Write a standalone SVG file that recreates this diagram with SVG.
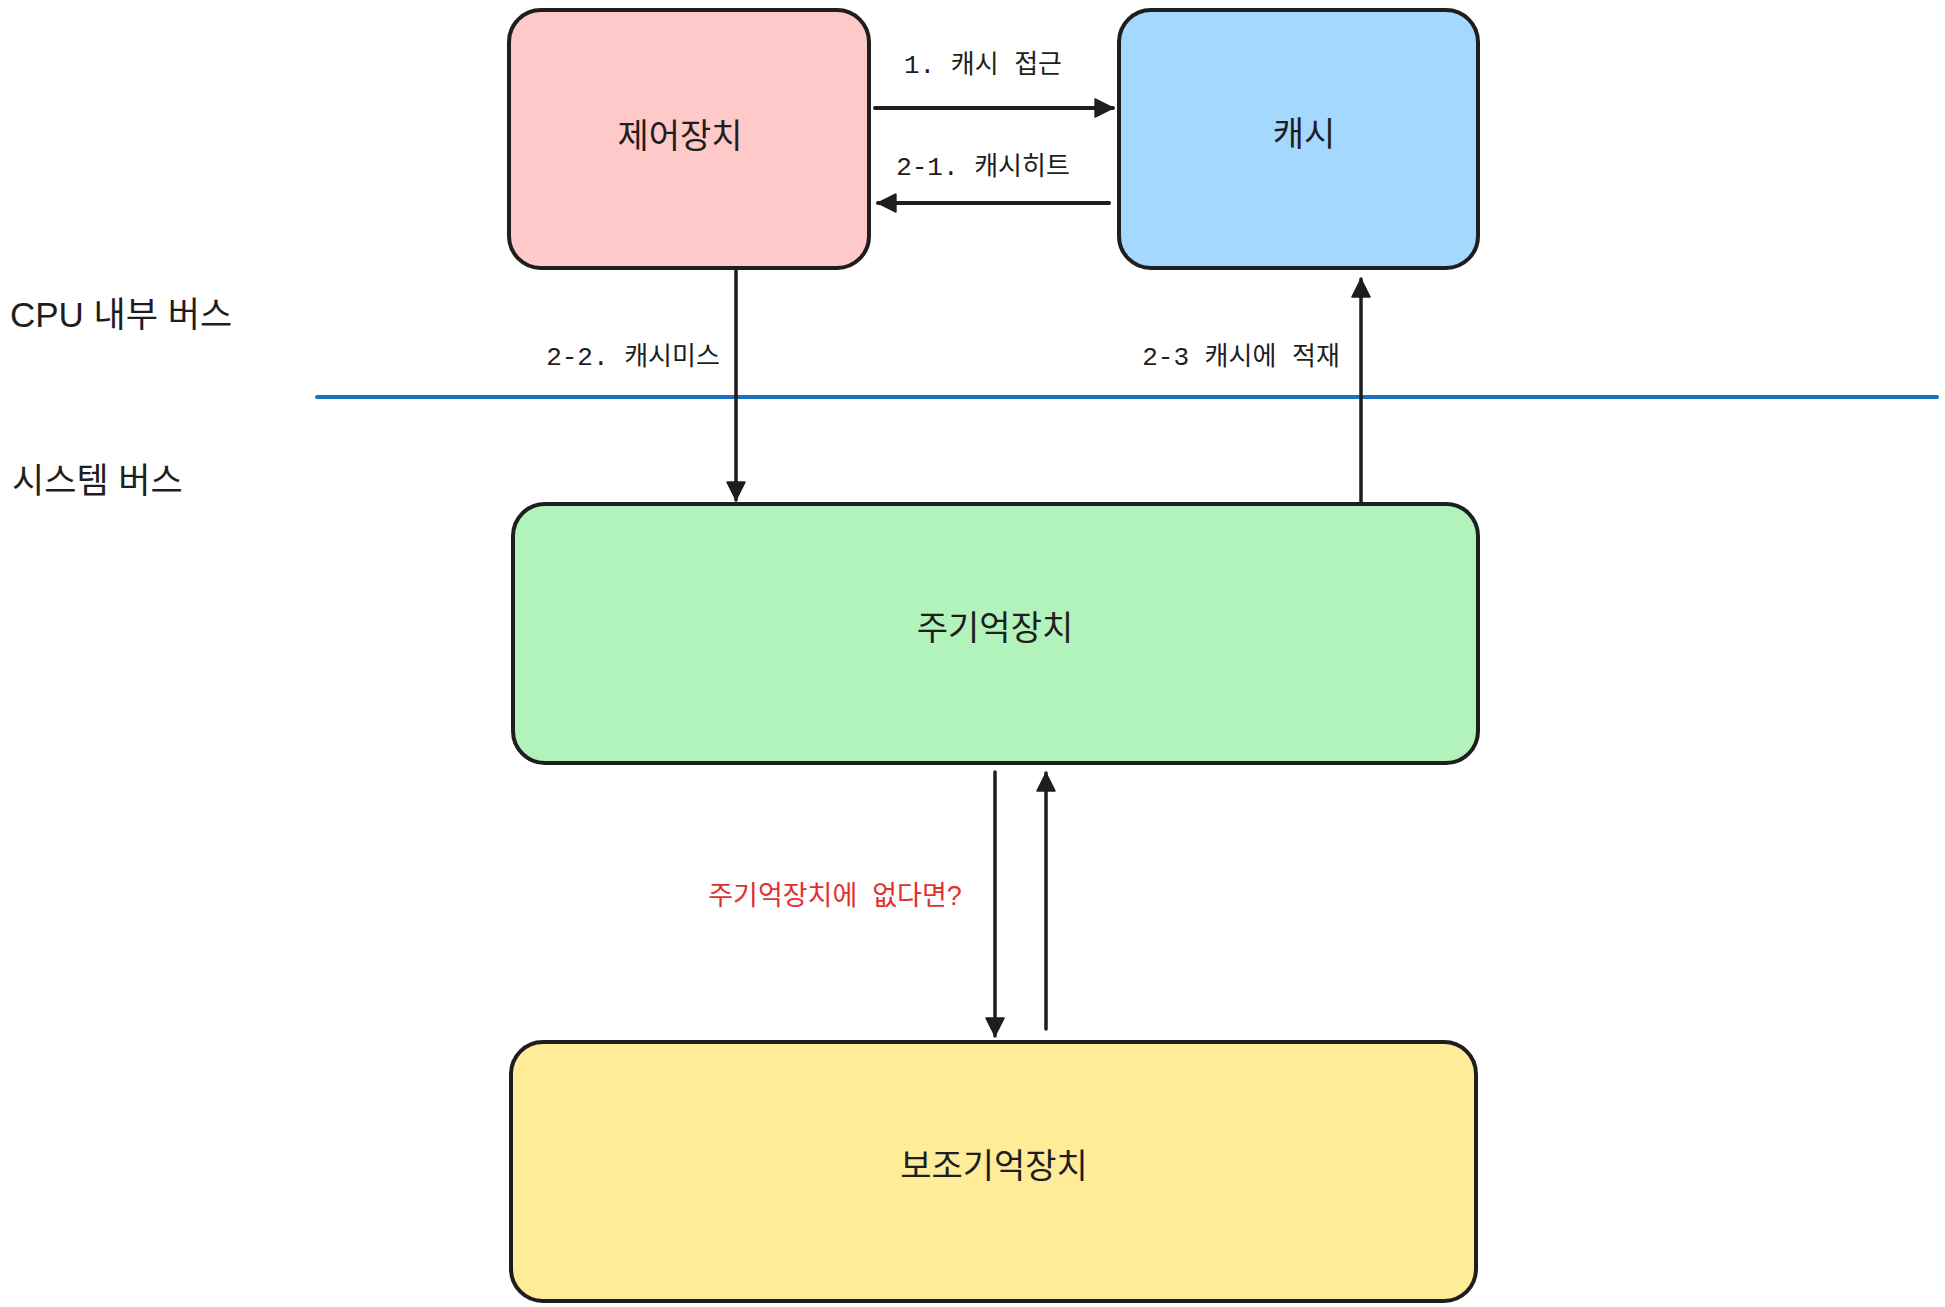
<svg xmlns="http://www.w3.org/2000/svg" width="1945" height="1307" viewBox="0 0 1945 1307">
  <style>
    .box { stroke: #1e1e1e; stroke-width: 4; }
    .node-text { font-family: "Liberation Sans", "Noto Sans CJK KR", sans-serif; font-size: 34px; fill: #1e1e1e; text-anchor: middle; dominant-baseline: central; }
    .side-text { font-family: "Liberation Sans", "Noto Sans CJK KR", sans-serif; font-size: 35px; fill: #1e1e1e; dominant-baseline: central; }
    .label { font-family: "Liberation Mono", "Noto Sans CJK KR", monospace; font-size: 26px; fill: #1e1e1e; text-anchor: middle; dominant-baseline: central; }
    .red-label { font-family: "Liberation Sans", "Noto Sans CJK KR", sans-serif; font-size: 27px; fill: #e03131; text-anchor: middle; dominant-baseline: central; }
    .conn { stroke: #1e1e1e; fill: none; stroke-linecap: round; }
    .h { stroke-width: 4; }
    .v { stroke-width: 3.5; }
  </style>
  <defs>
    <marker id="arrow" markerUnits="userSpaceOnUse" markerWidth="20" markerHeight="20" refX="17" refY="8.5" orient="auto" viewBox="-1 -1 19 19">
      <path d="M0,0 L17,8.5 L0,17 Z" fill="#1e1e1e" stroke="#1e1e1e" stroke-width="1.5" stroke-linejoin="round"/>
    </marker>
  </defs>
  <rect width="1945" height="1307" fill="#ffffff"/>

  <g id="bus-divider">
    <line x1="317" y1="397" x2="1937" y2="397" stroke="#1971c2" stroke-width="4" stroke-linecap="round"/>
    <text class="side-text" x="10" y="314">CPU 내부 버스</text>
    <text class="side-text" x="12" y="480">시스템 버스</text>
  </g>

  <g id="control-unit">
    <rect class="box" x="509" y="10" width="360" height="258" rx="32" ry="32" fill="#ffc9c9"/>
    <text class="node-text" x="680" y="136">제어장치</text>
  </g>

  <g id="cache">
    <rect class="box" x="1119" y="10" width="359" height="258" rx="32" ry="32" fill="#a5d8ff"/>
    <text class="node-text" x="1304" y="134">캐시</text>
  </g>

  <g id="main-memory">
    <rect class="box" x="513" y="504" width="965" height="259" rx="32" ry="32" fill="#b2f2bb"/>
    <text class="node-text" x="995" y="628">주기억장치</text>
  </g>

  <g id="secondary-memory">
    <rect class="box" x="511" y="1042" width="965" height="259" rx="32" ry="32" fill="#ffec99"/>
    <text class="node-text" x="994" y="1166">보조기억장치</text>
  </g>

  <g id="connectors">
    <line class="conn h" x1="875" y1="108" x2="1113" y2="108" marker-end="url(#arrow)"/>
    <line class="conn h" x1="1109" y1="203" x2="878" y2="203" marker-end="url(#arrow)"/>
    <line class="conn v" x1="736" y1="270" x2="736" y2="500" marker-end="url(#arrow)"/>
    <line class="conn v" x1="1361" y1="502" x2="1361" y2="279" marker-end="url(#arrow)"/>
    <line class="conn v" x1="995" y1="772" x2="995" y2="1036" marker-end="url(#arrow)"/>
    <line class="conn v" x1="1046" y1="1029" x2="1046" y2="773" marker-end="url(#arrow)"/>
    <text class="label" x="983" y="66">1. 캐시 접근</text>
    <text class="label" x="983" y="168">2-1. 캐시히트</text>
    <text class="label" x="633" y="358">2-2. 캐시미스</text>
    <text class="label" x="1241" y="358">2-3 캐시에 적재</text>
    <text class="red-label" x="835" y="896" xml:space="preserve">주기억장치에  없다면?</text>
  </g>
</svg>
